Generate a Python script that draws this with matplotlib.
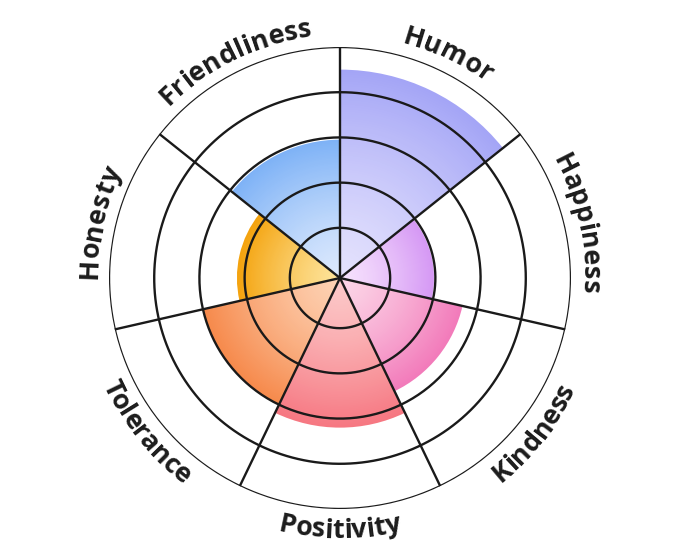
import numpy as np
import matplotlib
matplotlib.use("Agg")
import matplotlib.pyplot as plt
from matplotlib.font_manager import FontProperties
from matplotlib.colors import to_rgb

categories = ["Humor", "Happiness", "Kindness", "Positivity", "Tolerance", "Honesty", "Friendliness"]
values = [4.5, 1.97, 2.67, 3.2, 3.0, 2.17, 2.95]
inner_colors = ["#e4e2fd", "#f6e2fd", "#fcd6e7", "#fcc9c9", "#fdd2b4", "#fde39a", "#dce9fd"]
outer_colors = ["#a4a5f6", "#d598f4", "#f27aba", "#f67781", "#f6894b", "#f4a30d", "#7eb2f6"]
ring_levels = [1, 2, 3, 4, 5]
rmax = 5
rmin = -0.11

W, H = 680, 557
fig = plt.figure(figsize=(W / 100, H / 100), dpi=100)
cx, cy = 340, H - 278
R = 231
ax = fig.add_axes([(cx - R) / W, (cy - R) / H, 2 * R / W, 2 * R / H], projection="polar")
ax.set_theta_zero_location("N")
ax.set_theta_direction(-1)
ax.set_ylim(rmin, rmax)
ax.set_xticks([])
ax.set_yticks([])
ax.grid(False)
ax.spines["polar"].set_visible(False)
ax.set_facecolor("white")

n = len(categories)
width = 2 * np.pi / n
mids = np.arange(n) * width + width / 2

steps = 90
for i, (v, ci, co) in enumerate(zip(values, inner_colors, outer_colors)):
    c0 = np.array(to_rgb(ci))
    c1 = np.array(to_rgb(co))
    edges = np.linspace(rmin, v, steps + 1)
    for k in range(steps, 0, -1):
        t = ((k - 0.5) / steps) ** 1.3
        col = c0 + (c1 - c0) * t
        ax.bar(mids[i], edges[k] - rmin, width=width, bottom=rmin,
               color=col, linewidth=0, align="center", zorder=2)

lc = "#1a1a1a"
lw = 1.7
th = np.linspace(0, 2 * np.pi, 400)
for r in ring_levels:
    ax.plot(th, np.full_like(th, r), color=lc, lw=lw, zorder=5, solid_capstyle="round")
for j in range(n):
    a = j * width
    ax.plot([a, a], [rmin, rmax], color=lc, lw=lw, zorder=5, solid_capstyle="round")

# curved labels
fp = FontProperties(family=["Open Sans", "DejaVu Sans"], weight="bold", size=19.4)
fig.canvas.draw()
renderer = fig.canvas.get_renderer()

def textw(s):
    if not s:
        return 0.0
    w, h, d = renderer.get_text_width_height_descent(s, fp, ismath=False)
    return w

for i, lab in enumerate(categories):
    mid_deg = np.degrees(mids[i])
    top = np.cos(mids[i]) > -0.05
    total = textw(lab)
    Rb = 243 if top else 260
    for k, ch in enumerate(lab):
        x0 = textw(lab[:k])
        x1 = textw(lab[:k + 1])
        xc = (x0 + x1) / 2 - total / 2
        if top:
            theta = mid_deg + np.degrees(xc / Rb)
            rot = -theta
        else:
            theta = mid_deg - np.degrees(xc / Rb)
            rot = 180 - theta
        tr = np.radians(theta)
        px = cx + Rb * np.sin(tr)
        py = cy + Rb * np.cos(tr)
        fig.text(px / W, py / H, ch, fontproperties=fp, color="#1c1c1c",
                 rotation=rot, rotation_mode="anchor", ha="center", va="baseline")

fig.savefig("out.png", dpi=100, facecolor="white")
